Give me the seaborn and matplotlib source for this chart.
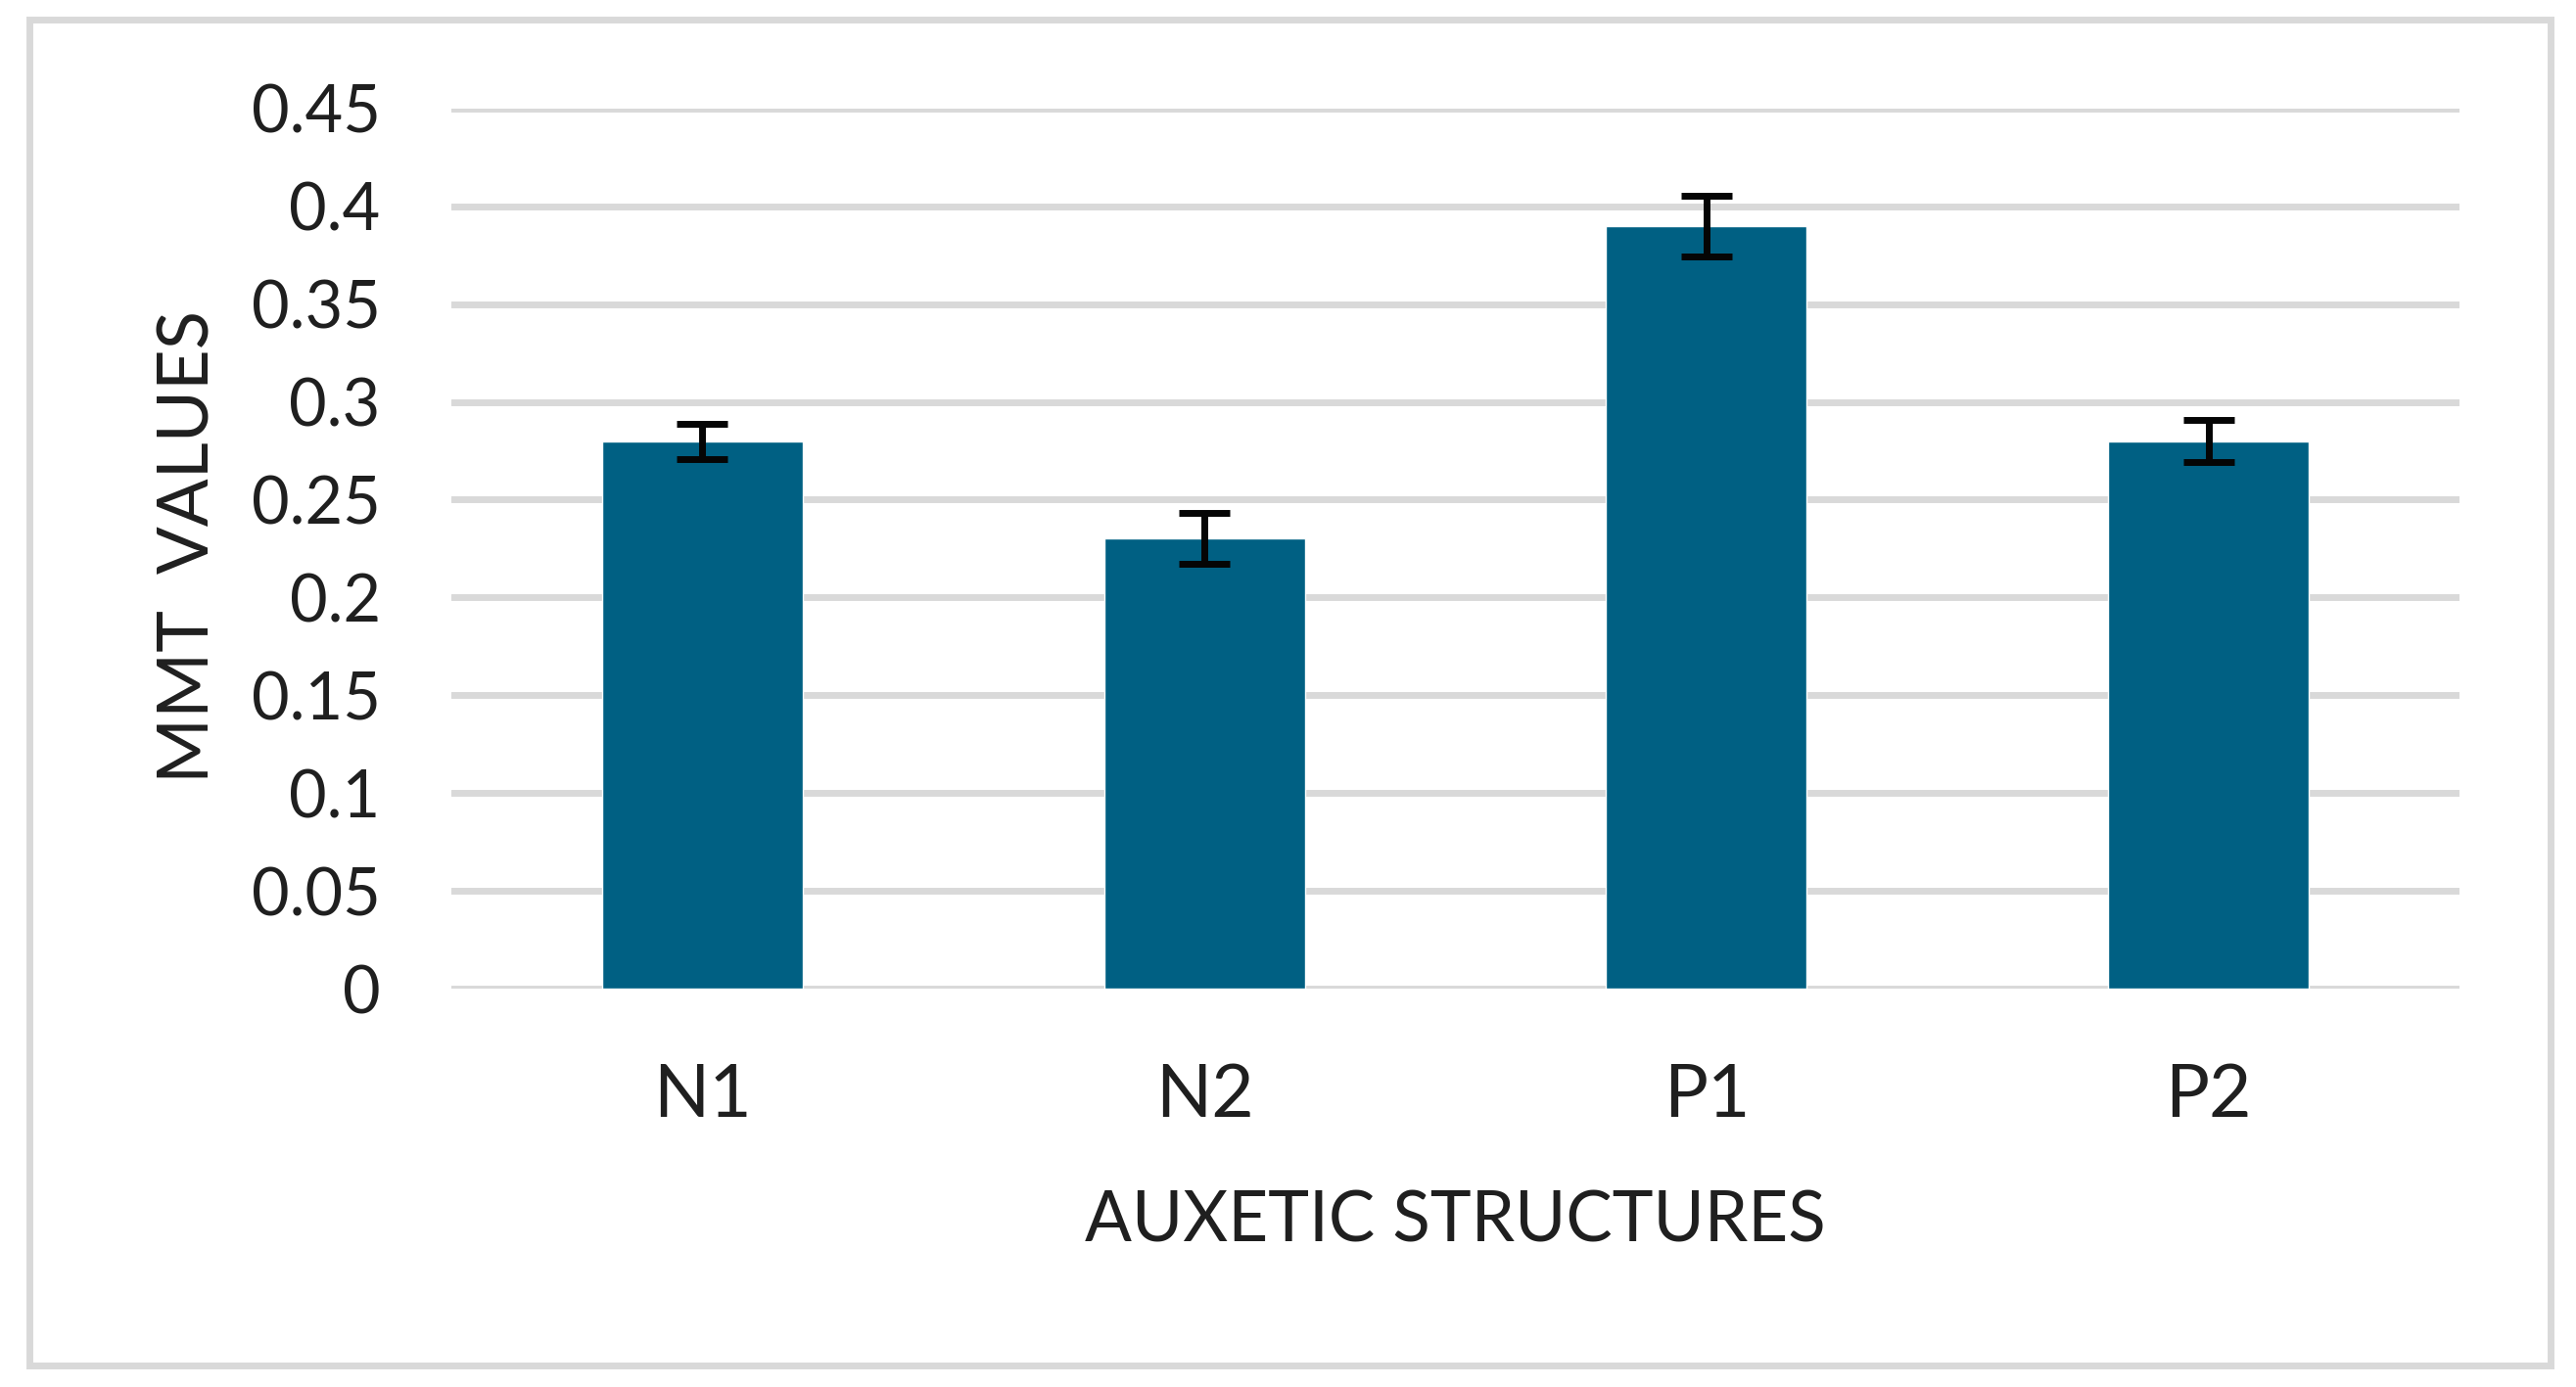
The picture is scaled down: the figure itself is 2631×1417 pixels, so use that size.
import pandas as pd
import numpy as np
import matplotlib
matplotlib.use('Agg')
import matplotlib.pyplot as plt
from matplotlib.patches import Rectangle
import seaborn as sns

# values
structures = ['N1', 'N2', 'P1', 'P2']
mmt_values = [0.28, 0.23, 0.39, 0.28]
mmt_err = [0.009, 0.013, 0.0155, 0.0108]
yticks = [0, 0.05, 0.1, 0.15, 0.2, 0.25, 0.3, 0.35, 0.4, 0.45]
ytick_labels = ['0', '0.05', '0.1', '0.15', '0.2', '0.25', '0.3', '0.35', '0.4', '0.45']

df = pd.DataFrame({'structure': structures, 'mmt': mmt_values})

sns.set_style('white')
plt.rcParams['font.family'] = ['Lato', 'DejaVu Sans']
text_col = '#1f1f1f'
grid_col = '#d9d9d9'
bar_col = '#006083'

fig = plt.figure(figsize=(26.31, 14.17), dpi=100)
ax = fig.add_axes([0.1752, 0.2869, 0.9548 - 0.1752, 0.9220 - 0.2869])

# outer chart border
fig.patches.append(Rectangle((0.0114, 0.0152), 0.9901 - 0.0114, 0.9862 - 0.0152,
                             transform=fig.transFigure, fill=False,
                             edgecolor=grid_col, linewidth=5))

sns.barplot(data=df, x='structure', y='mmt', color=bar_col, width=0.4,
            saturation=1, errorbar=None, ax=ax, zorder=3)
ax.errorbar(np.arange(len(structures)), mmt_values, yerr=mmt_err, fmt='none',
            ecolor='#050505', elinewidth=5, capsize=19, capthick=5, zorder=4)

ax.set_xlim(-0.5, 3.5)
ax.set_ylim(0, 0.45)
ax.set_yticks(yticks)
ax.set_yticklabels(ytick_labels)
ax.yaxis.grid(True, color=grid_col, linewidth=5)
ax.set_axisbelow(True)
for s in ax.spines.values():
    s.set_visible(False)
ax.tick_params(axis='y', length=0, pad=52, labelsize=48, labelcolor=text_col)
ax.tick_params(axis='x', length=0, pad=54, labelsize=54, labelcolor=text_col)

ax.set_xlabel('AUXETIC STRUCTURES', fontsize=51, color=text_col, labelpad=44)
ax.set_ylabel('MMT  VALUES', fontsize=52, color=text_col)
ax.yaxis.set_label_coords(-0.1305, 0.502)
ax.yaxis.label.set_va('center')

plt.savefig('out.png', dpi=100)
plt.close()
